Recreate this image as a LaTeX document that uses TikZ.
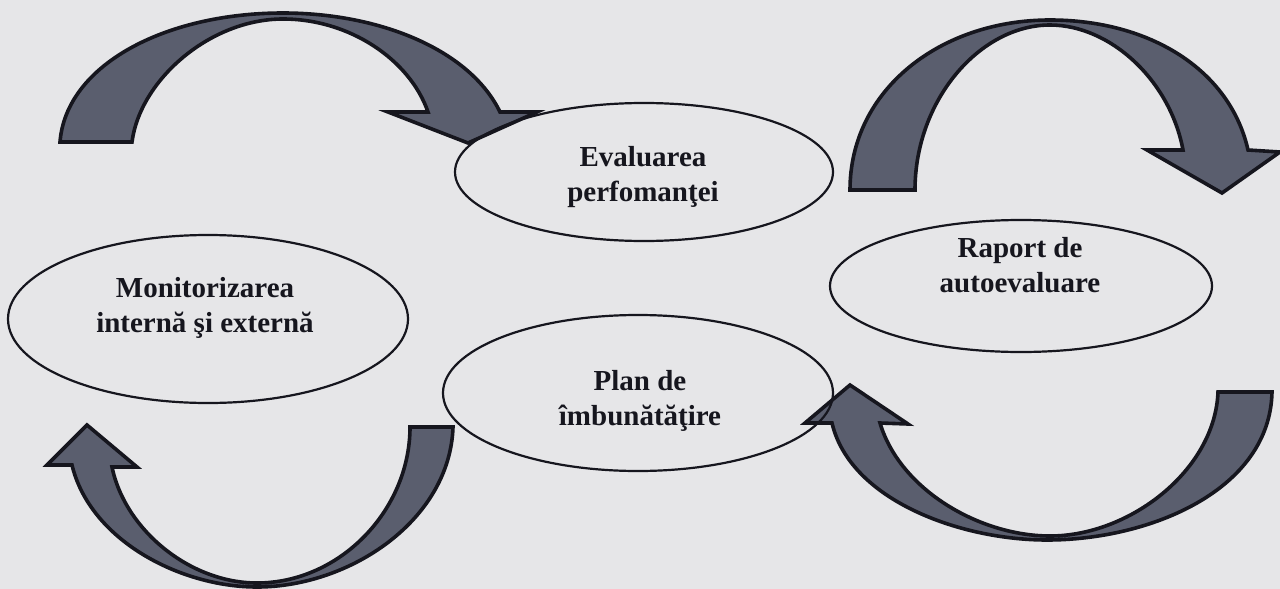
\documentclass[tikz,border=0pt]{standalone}
\usepackage{fontspec}
\setmainfont{Liberation Serif}
\definecolor{bgcol}{HTML}{E6E6E8}
\definecolor{arrowfill}{HTML}{5A5E6E}
\definecolor{inkcol}{HTML}{16161E}
\tikzset{
  ell/.style={ellipse, draw=inkcol, line width=1.1pt, inner sep=0pt},
  txt/.style={align=center, text=inkcol, font=\bfseries\fontsize{14.5}{17.5}\selectfont},
  bigarrow/.style={fill=arrowfill, draw=inkcol, line width=1.8pt, line join=miter}
}
\usetikzlibrary{shapes.geometric}
\begin{document}
\begin{tikzpicture}[x=0.5pt,y=-0.5pt]
\useasboundingbox (0,0) rectangle (1280,589);
\fill[bgcol] (0,0) rectangle (1280,589);

% top-left arrow
\draw[bigarrow] (60,142) -- (132,142)
  .. controls (140,80) and (210,19) .. (283,19)
  .. controls (350,19) and (410,60) .. (428,112)
  -- (388,112) -- (468,143) -- (537,112) -- (500,112)
  .. controls (470,50) and (380,13) .. (283,13)
  .. controls (165,13) and (66,65) .. (60,142) -- cycle;

% top-right arrow
\draw[bigarrow] (850,190) -- (915,190)
  .. controls (915,100) and (980,25) .. (1050,25)
  .. controls (1110,25) and (1170,80) .. (1183,150)
  -- (1147,150) -- (1222,193) -- (1280,152) -- (1248,150)
  .. controls (1230,70) and (1150,20) .. (1050,20)
  .. controls (940,20) and (850,90) .. (850,190) -- cycle;

% bottom-left arrow
\draw[bigarrow] (453,427) -- (410,427)
  .. controls (410,510) and (340,583) .. (257,583)
  .. controls (190,583) and (125,530) .. (112,467)
  -- (137,467) -- (87,425) -- (47,465) -- (72,465)
  .. controls (90,540) and (180,587) .. (257,587)
  .. controls (350,587) and (450,520) .. (453,427) -- cycle;

% bottom-right arrow
\draw[bigarrow] (1272,392) -- (1218,392)
  .. controls (1215,470) and (1130,536) .. (1050,536)
  .. controls (980,536) and (900,490) .. (880,423)
  -- (908,424) -- (850,385) -- (805,423) -- (832,423)
  .. controls (850,500) and (960,540) .. (1047,540)
  .. controls (1150,540) and (1270,490) .. (1272,392) -- cycle;

% ellipses
\node[ell, minimum width=189pt, minimum height=69pt] (eval) at (644,172) {};
\node[ell, minimum width=200pt, minimum height=84pt] (mon) at (208,319) {};
\node[ell, minimum width=191pt, minimum height=66pt] (rap) at (1021,286) {};
\node[ell, minimum width=195pt, minimum height=78pt] (plan) at (638,393) {};

% texts
\node[txt] (evalt) at (643,177) {Evaluarea\\perfomanţei};
\node[txt] (mont) at (205,308) {Monitorizarea\\internă şi externă};
\node[txt] (rapt) at (1020,265) {Raport de\\autoevaluare};
\node[txt] (plant) at (640,401) {Plan de\\îmbunătăţire};
\end{tikzpicture}
\end{document}
